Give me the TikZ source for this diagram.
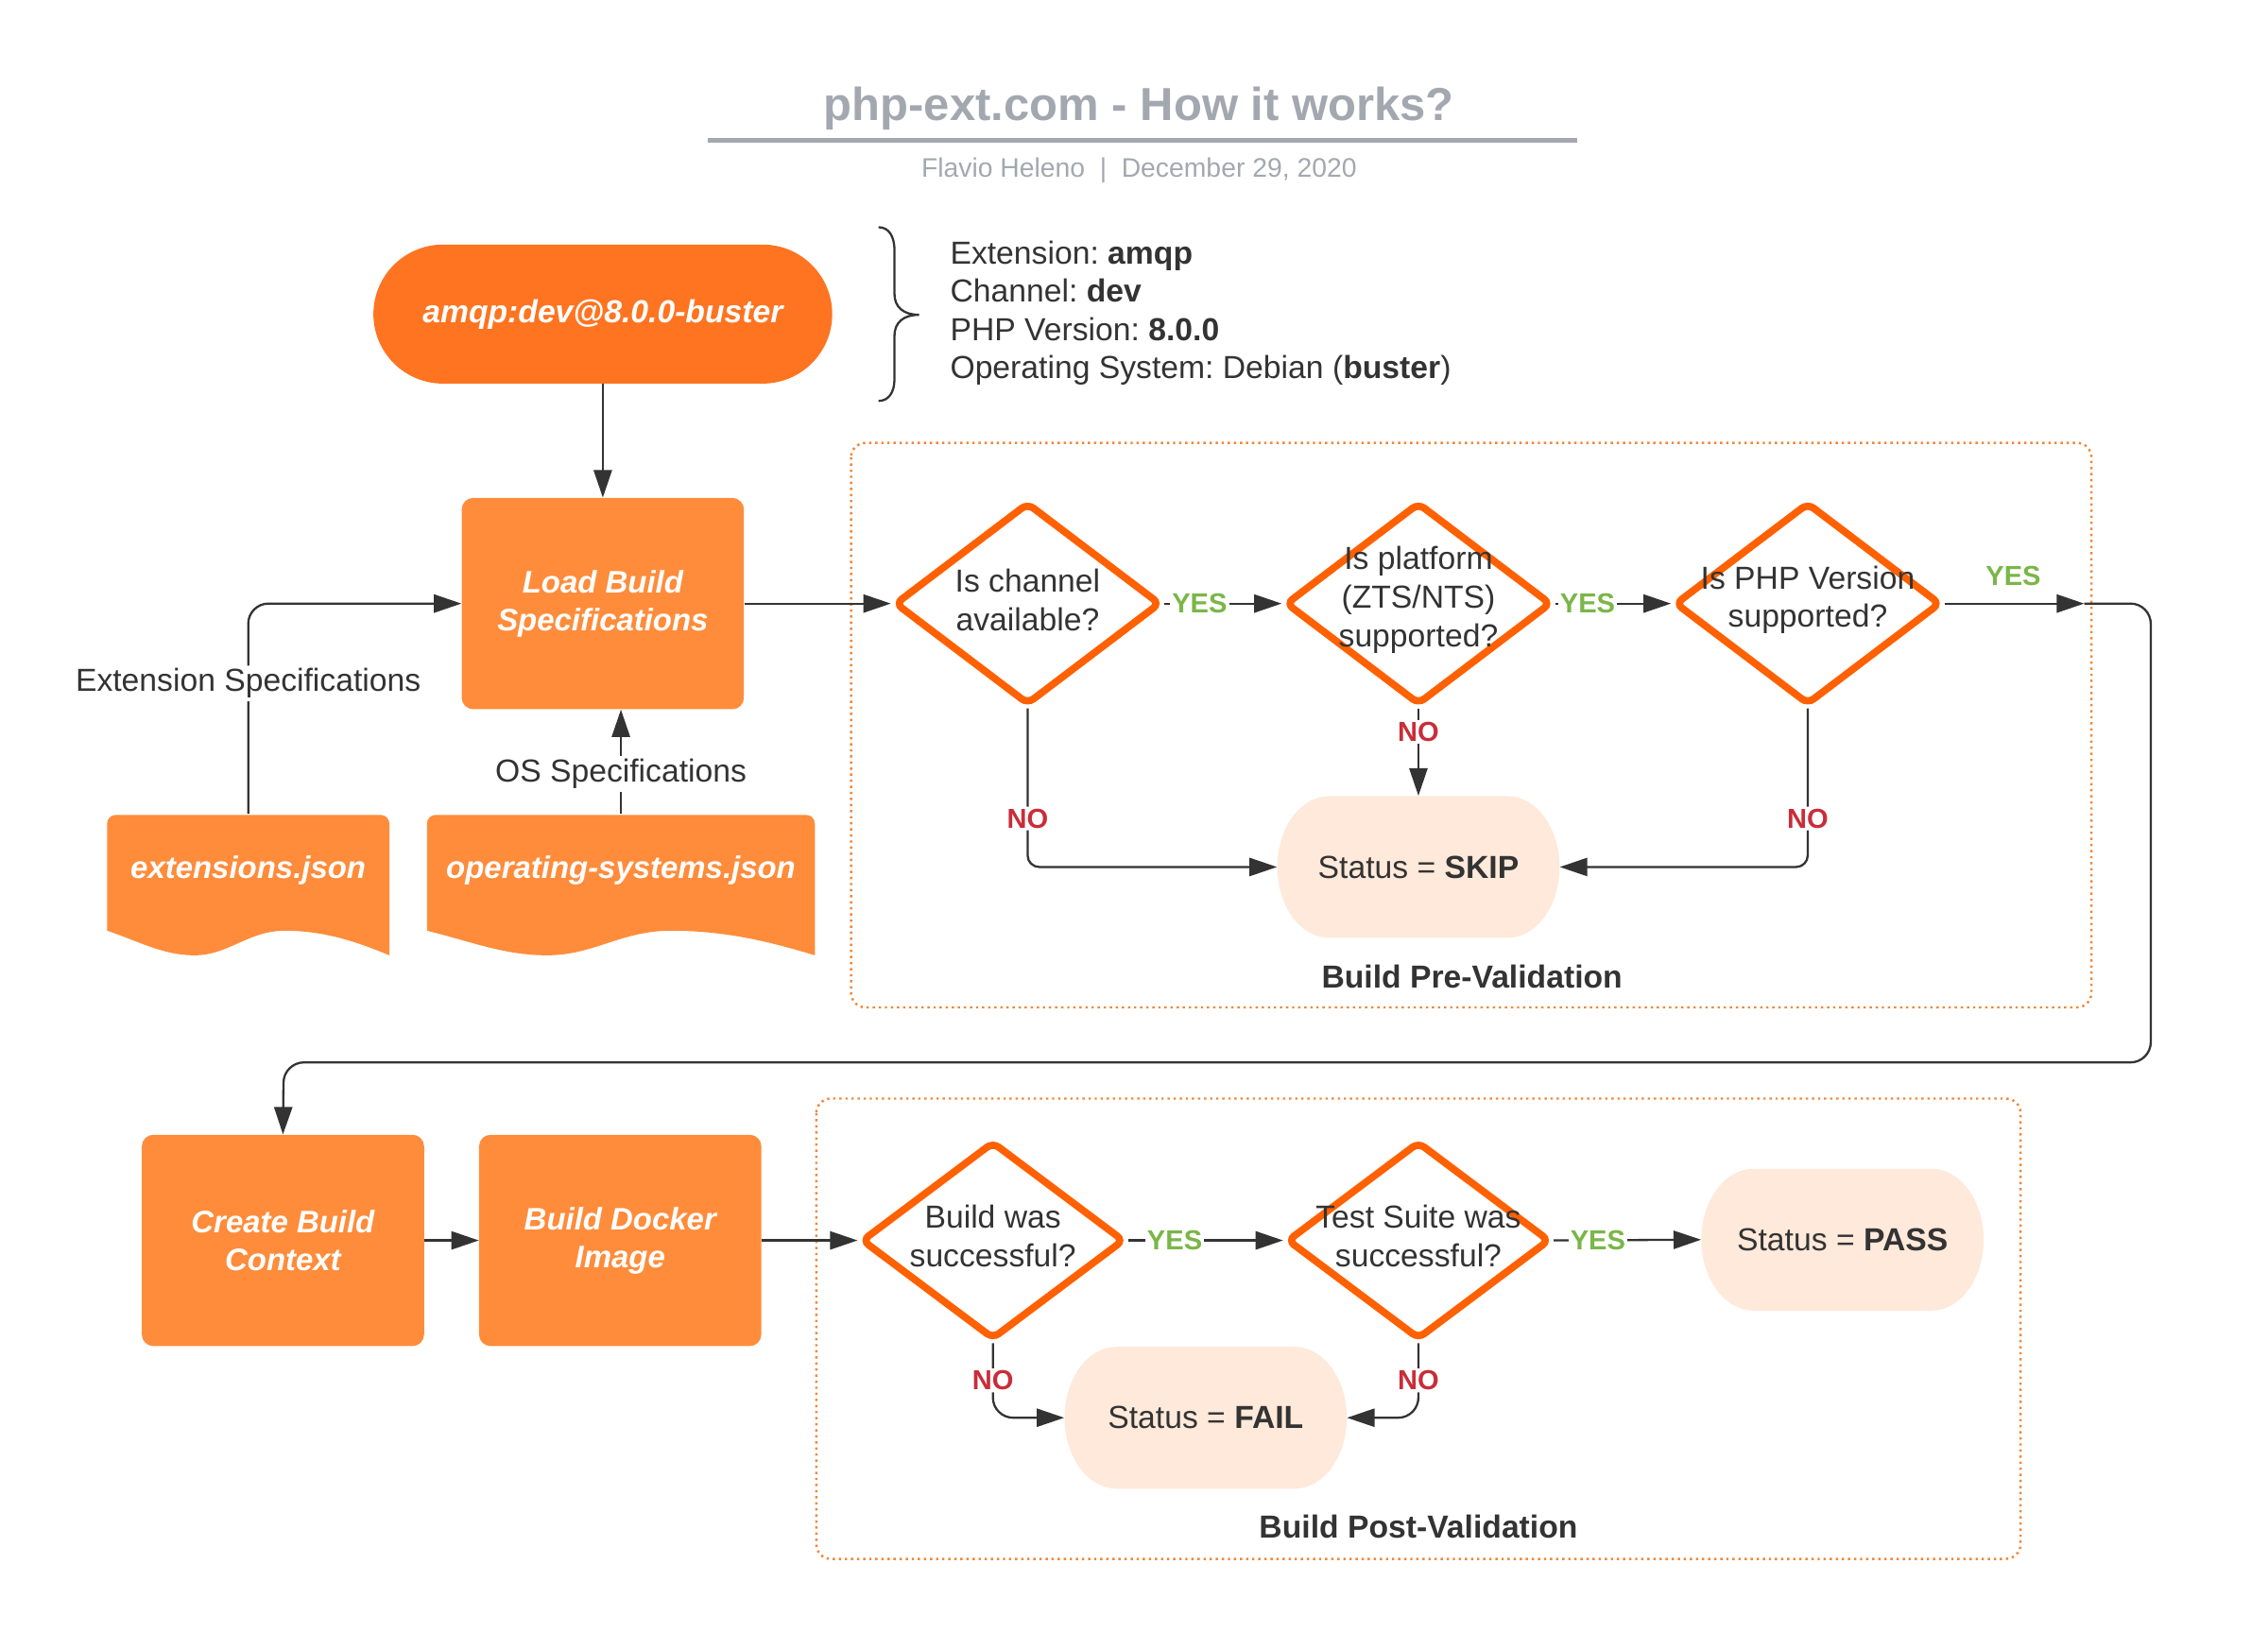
\documentclass[tikz,border=0pt]{standalone}
\usepackage{fontspec}
\setmainfont{Liberation Sans}
\usetikzlibrary{arrows.meta,shapes.geometric,calc}
\definecolor{dark}{HTML}{333333}
\definecolor{greyt}{HTML}{A3A8B0}
\definecolor{pillor}{HTML}{FE7421}
\definecolor{boxor}{HTML}{FF8C3B}
\definecolor{diaor}{HTML}{FF6000}
\definecolor{peach}{HTML}{FEE9DA}
\definecolor{dotor}{HTML}{F0883C}
\definecolor{yesg}{HTML}{7AB648}
\definecolor{nor}{HTML}{C92D39}
\newcommand\stadfill[2]{\fill[peach] ({#1-61.5},{#2-49}) -- ({#1+61.5},{#2-49}) arc[start angle=90,end angle=-90,x radius=36pt,y radius=49pt] -- ({#1-61.5},{#2+49}) arc[start angle=270,end angle=90,x radius=36pt,y radius=49pt] -- cycle;}
% #1 left, #2 right, #3 top, #4 bottom
\newcommand\docfill[4]{\fill[boxor] ({#1},{#4-17}) .. controls ({#1+0.12*(#2-#1)},{#4-9}) and ({#1+0.2*(#2-#1)},{#4}) .. ({#1+0.31*(#2-#1)},{#4}) .. controls ({#1+0.43*(#2-#1)},{#4}) and ({#1+0.5*(#2-#1)},{#4-17}) .. ({#1+0.63*(#2-#1)},{#4-17}) .. controls ({#1+0.78*(#2-#1)},{#4-17}) and ({#1+0.9*(#2-#1)},{#4-8}) .. (#2,#4) -- (#2,{#3+6}) arc[start angle=0,end angle=90,radius=6pt] -- ({#1+6},#3) arc[start angle=90,end angle=180,radius=6pt] -- cycle;}
\begin{document}
\frenchspacing
\begin{tikzpicture}[x=1pt,y=-1pt,
  body/.style={font=\fontsize{22}{26.5}\selectfont, text=dark},
  boxtext/.style={font=\fontsize{21.5}{26}\selectfont\bfseries\itshape, text=white, align=center},
  conn/.style={draw=dark, line width=1.5pt},
  arr/.style={conn, -{Triangle[length=19pt,width=12.5pt]}},
  yes/.style={font=\fontsize{19}{22}\selectfont\bfseries, text=yesg, fill=white, inner sep=1.5pt},
  nolbl/.style={font=\fontsize{19}{22}\selectfont\bfseries, text=nor, fill=white, inner sep=1.5pt},
  lbl/.style={body, fill=white, inner sep=2pt},
  dia/.style={diamond, draw=diaor, line width=5pt, minimum width=184pt, minimum height=140pt, rounded corners=5pt, fill=white, inner sep=0pt},
  obox/.style={rectangle, fill=boxor, rounded corners=8pt, minimum width=195pt, minimum height=146pt, inner sep=0pt, boxtext},
  dotbox/.style={draw=dotor, line width=1.6pt, dash pattern=on 1.6pt off 2.6pt, rounded corners=10pt},
  area/.style={rectangle, minimum width=195pt, minimum height=98pt, inner sep=0pt},
]
\useasboundingbox (0,0) rectangle (1567,1127.6);

% title
\node[font=\fontsize{32}{38}\selectfont\bfseries, text=greyt, anchor=base] (title) at (787,83) {php-ext.com - How it works?};
\draw[greyt, line width=3pt] (489,97) -- (1090,97);
\node[font=\fontsize{18.5}{22}\selectfont, text=greyt, anchor=base] (sub) at (787,122.5) {Flavio Heleno\hspace{0.55em}|\hspace{0.55em}December 29, 2020};

% start pill
\node[fill=pillor, rounded corners=48pt, minimum width=317pt, minimum height=96pt, inner sep=0pt, boxtext, font=\fontsize{22}{26}\selectfont\bfseries\itshape] (start) at (416.5,217) {amqp:dev@8.0.0-buster};

% brace and info
\draw[dark, line width=1.5pt] (607,157) .. controls (614,157) and (618,163) .. (618,173) -- (618,203) .. controls (618,212) and (624,217.5) .. (635,217.5) .. controls (624,217.5) and (618,223) .. (618,232) -- (618,262) .. controls (618,271) and (614,277) .. (607,277);
\node[body, anchor=base west] (i1) at (653,182.5) {Extension: \textbf{amqp}};
\node[body, anchor=base west] (i2) at (653,208.5) {Channel: \textbf{dev}};
\node[body, anchor=base west] (i3) at (653,235.5) {PHP Version: \textbf{8.0.0}};
\node[body, anchor=base west] (i4) at (653,261.5) {Operating System: Debian (\textbf{buster})};

% load build
\node[obox] (load) at (416.5,417) {Load Build\\Specifications};

% documents
\docfill{74}{269}{563}{660}
\docfill{295}{563}{563}{660}
\node[area] (ext) at (171.5,611.5) {};
\node[area, minimum width=268pt] (os) at (429,611.5) {};
\node[boxtext] (extt) at (171.5,601) {extensions.json};
\node[boxtext] (ost) at (429,601) {operating-systems.json};

\draw[arr] (start.south) -- (load.north);
\draw[arr, rounded corners=14pt] (ext.north) |- node[lbl, pos=0.31] {Extension Specifications} (load.west);
\draw[arr] (os.north) -- node[lbl, pos=0.38] {OS Specifications} (os.north |- load.south);

% pre-validation
\draw[dotbox] (588,306) rectangle (1445,696);
\node[body, font=\fontsize{22}{26}\selectfont\bfseries] (pretitle) at (1017,675) {Build Pre-Validation};

\node[dia] (d1) at (710,417) {};
\node[dia] (d2) at (980,417) {};
\node[dia] (d3) at (1249,417) {};
\node[body, align=center] (d1t) at (710,414.5) {Is channel\\available?};
\node[body, align=center] (d2t) at (980,414.5) {Is platform\\(ZTS/NTS)\\supported?};
\node[body, align=center] (d3t) at (1249,414.5) {Is PHP Version\\supported?};

\stadfill{980}{599}
\node[area, body] (skip) at (980,599) {Status = \textbf{SKIP}};

\draw[arr] (load.east) -- (d1.west);
\draw[arr] (d1.east) -- node[yes, pos=0.3] {YES} (d2.west);
\draw[arr] (d2.east) -- node[yes, pos=0.28] {YES} (d3.west);
\coordinate (exitpt) at (1440,417);
\draw[arr] (d3.east) -- (exitpt);
\node[yes, fill=none] (yes3) at (1391,398) {YES};
\draw[arr, rounded corners=8pt] (d1.south) |- node[nolbl, pos=0.347] {NO} (skip.west);
\draw[arr, rounded corners=8pt] (d3.south) |- node[nolbl, pos=0.347] {NO} (skip.east);
\draw[arr] (d2.south) -- node[nolbl, pos=0.27] {NO} (skip.north);

% bottom row
\node[obox] (create) at (195.5,857) {Create Build\\Context};
\node[obox] (docker) at (428.5,857) {Build Docker\\Image};
\draw[arr, rounded corners=14pt] (exitpt) -- (1486,417) -- (1486,734) -- (196,734) -- (create.north);
\draw[arr] (create.east) -- (docker.west);

% post-validation
\draw[dotbox] (564,759) rectangle (1396,1077);
\node[body, font=\fontsize{22}{26}\selectfont\bfseries] (posttitle) at (980,1055) {Build Post-Validation};

\node[dia, minimum width=182pt, minimum height=137pt] (d4) at (686,857) {};
\node[dia, minimum width=182pt, minimum height=137pt] (d5) at (980,857) {};
\node[body, align=center] (d4t) at (686,854) {Build was\\successful?};
\node[body, align=center] (d5t) at (980,854) {Test Suite was\\successful?};

\stadfill{1273}{856.5}
\node[area, body] (pass) at (1273,856.5) {Status = \textbf{PASS}};
\stadfill{833}{979.5}
\node[area, body] (fail) at (833,979.5) {Status = \textbf{FAIL}};

\draw[arr] (docker.east) -- (d4.west);
\draw[arr] (d4.east) -- node[yes, pos=0.3] {YES} (d5.west);
\draw[arr] (d5.east) -- node[yes, pos=0.3] {YES} (pass.west);
\draw[arr, rounded corners=14pt] (d4.south) |- node[nolbl, pos=0.25] {NO} (fail.west);
\draw[arr, rounded corners=14pt] (d5.south) |- node[nolbl, pos=0.25] {NO} (fail.east);
\end{tikzpicture}
\end{document}
